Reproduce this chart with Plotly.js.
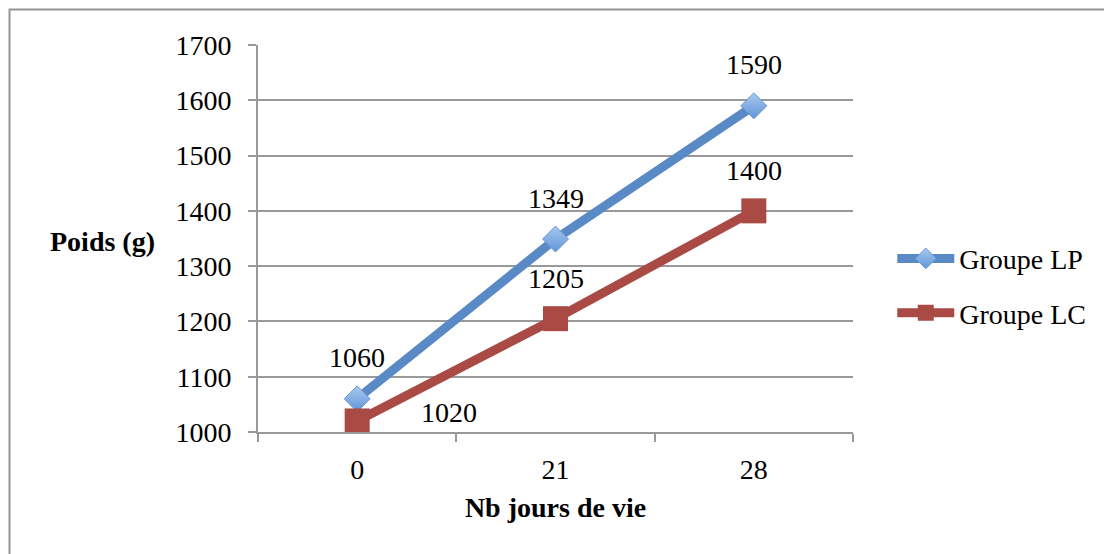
<!DOCTYPE html>
<html>
<head>
<meta charset="utf-8">
<script src="https://cdn.plot.ly/plotly-3.0.1.min.js"></script>
<style>
html,body{margin:0;padding:0;background:#fff;}
#chart{width:1104px;height:554px;}
</style>
</head>
<body>
<div id="chart"></div>
<script>
const categories = ["0", "21", "28"];
const seriesNames = ["Groupe LP", "Groupe LC"];
const valuesLP = [1060, 1349, 1590];
const valuesLC = [1020, 1205, 1400];
const yTicks = [1000, 1100, 1200, 1300, 1400, 1500, 1600, 1700];
const xTitle = "Nb jours de vie";
const yTitle = "Poids (g)";

const FONT = "'Liberation Serif', 'Times New Roman', serif";
const FS = 28;

const traceLP = {
  x: categories, y: valuesLP, name: seriesNames[0], type: "scatter", mode: "lines+markers",
  line: {color: "#5A8AC6", width: 9},
  marker: {symbol: "diamond", size: 20, color: "#A9C9F0",
    gradient: {type: "vertical", color: "#5F95D8"},
    line: {color: "#6B9AD2", width: 1}},
  legendgroup: "a", cliponaxis: false
};
const traceLC = {
  x: categories, y: valuesLC, name: seriesNames[1], type: "scatter", mode: "lines+markers",
  line: {color: "#A94A45", width: 9},
  marker: {symbol: "square", size: 25, color: "#A94A45", line: {color: "#A94A45", width: 0}},
  legendgroup: "b", cliponaxis: false
};

const annotations = [];
valuesLP.forEach((v, i) => annotations.push({
  x: i, y: v, xref: "x", yref: "y", text: String(v), showarrow: false,
  yshift: 41, font: {family: FONT, size: FS, color: "#000"}
}));
valuesLC.forEach((v, i) => annotations.push({
  x: i, y: v, xref: "x", yref: "y", text: String(v), showarrow: false,
  xshift: i === 0 ? 92 : 0, yshift: i === 0 ? 8 : 40,
  font: {family: FONT, size: FS, color: "#000"}
}));
annotations.push({
  xref: "paper", yref: "paper", x: -0.262, y: 0.4935, xanchor: "center", yanchor: "middle",
  text: "<b>" + yTitle + "</b>", showarrow: false, font: {family: FONT, size: FS, color: "#000"}
});

const layout = {
  width: 1104, height: 554,
  margin: {l: 258, r: 251, t: 45, b: 122},
  paper_bgcolor: "#fff", plot_bgcolor: "#fff",
  font: {family: FONT, size: FS, color: "#000"},
  xaxis: {
    type: "category", range: [-0.5, 2.5], tickson: "boundaries",
    ticks: "outside", ticklen: 8, tickwidth: 2, tickcolor: "#999",
    showline: true, linecolor: "#999", linewidth: 2,
    showgrid: false, zeroline: false,
    ticklabelstandoff: 11,
    tickfont: {family: FONT, size: FS, color: "#000"},
    title: {text: "<b>" + xTitle + "</b>", standoff: 14, font: {family: FONT, size: FS, color: "#000"}}
  },
  yaxis: {
    range: [1000, 1700], tickvals: yTicks, ticktext: yTicks.map(String),
    ticks: "outside", ticklen: 8, tickwidth: 2, tickcolor: "#999",
    showline: true, linecolor: "#999", linewidth: 2,
    showgrid: true, gridcolor: "#999", gridwidth: 2, zeroline: false,
    ticklabelstandoff: 11,
    tickfont: {family: FONT, size: FS, color: "#000"}
  },
  legend: {
    x: 1.066, y: 0.378, xanchor: "left", yanchor: "middle",
    traceorder: "grouped", tracegroupgap: 15, itemwidth: 57,
    font: {family: FONT, size: FS, color: "#000"}, bgcolor: "rgba(0,0,0,0)"
  },
  showlegend: true,
  annotations: annotations,
  shapes: [{
    type: "rect", xref: "paper", yref: "paper",
    x0: (9.5 - 258) / 595, x1: (1120 - 258) / 595,
    y0: (432 - 570) / 387, y1: (432 - 9.5) / 387,
    line: {color: "#959595", width: 2}, layer: "below"
  }]
};

Plotly.newPlot("chart", [traceLP, traceLC], layout, {displayModeBar: false, staticPlot: true});
</script>
</body>
</html>
